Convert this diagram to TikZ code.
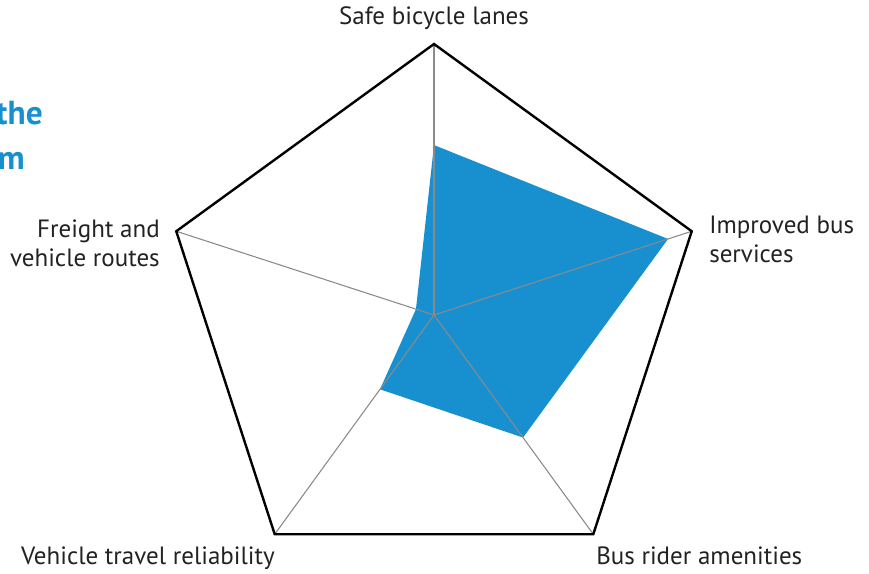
\documentclass[tikz,border=0pt]{standalone}
\usepackage{fontspec}
\usetikzlibrary{calc}
\setmainfont{PT Sans}
\definecolor{fillblue}{HTML}{1890D0}
\definecolor{axisgrey}{HTML}{8A8A8A}
\definecolor{txt}{HTML}{222222}
\begin{document}
\begin{tikzpicture}[x=0.75pt,y=-0.75pt,
  lbl/.style={font=\fontsize{18.75}{21.75}\selectfont, text=txt, inner sep=0pt},
  ttl/.style={font=\fontsize{25}{34}\selectfont\bfseries, text=fillblue, inner sep=0pt},
  axisline/.style={draw=axisgrey, line width=0.8pt},
  frame/.style={draw=black, line width=1.8pt, line join=miter}]
\useasboundingbox (0,0) rectangle (869,574);
\clip (0,0) rectangle (869,574);
\coordinate (c) at (434,315);
\def\R{271}
\foreach \n/\a in {t/-90, r/-18, br/54, bl/126, l/198}{
  \coordinate (\n) at ($(c)+(\a:\R)$);
}
% data
\coordinate (dt) at ($(c)!0.627!(t)$);
\coordinate (dr) at ($(c)!0.908!(r)$);
\coordinate (dbr) at ($(c)!0.559!(br)$);
\coordinate (dbl) at ($(c)!0.339!(bl)$);
\coordinate (dl) at ($(c)!0.07!(l)$);
\fill[fillblue] (dt) -- (dr) -- (dbr) -- (dbl) -- (dl) -- cycle;
\foreach \n in {t,r,br,bl,l}{ \draw[axisline] (c) -- (\n); }
\draw[frame] (t) -- (r) -- (br) -- (bl) -- (l) -- cycle;
% labels
\node[lbl, anchor=base] (lt) at (434,25) {Safe bicycle lanes};
\node[lbl, anchor=base west, align=left] (lr) at (709,263) {Improved bus\\services};
\node[lbl, anchor=base east, align=right] (ll) at (160,267) {Freight and\\vehicle routes};
\node[lbl, anchor=base east] (lbl1) at (275,565) {Vehicle travel reliability};
\node[lbl, anchor=base west] (lbr) at (596,565) {Bus rider amenities};
% partial title at left edge
\node[ttl, anchor=base east] (t1) at (43,125) {the};
\node[ttl, anchor=base east] (t2) at (25,170) {m};
\end{tikzpicture}
\end{document}
